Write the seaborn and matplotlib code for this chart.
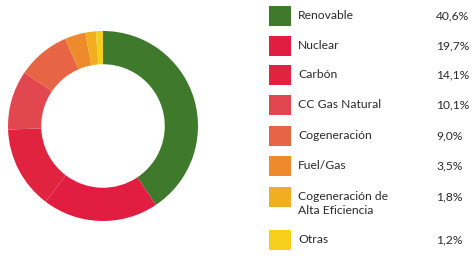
import matplotlib
matplotlib.use("Agg")
import matplotlib.pyplot as plt
from matplotlib.patches import Rectangle
import seaborn as sns

sns.set_theme(style="white")
plt.rcParams['font.family'] = ['Lato', 'DejaVu Sans']

# generation mix
labels = ['Renovable', 'Nuclear', 'Carbón', 'CC Gas Natural', 'Cogeneración',
          'Fuel/Gas', 'Cogeneración de\nAlta Eficiencia', 'Otras']
shares = [40.6, 19.7, 14.1, 10.1, 9.0, 3.5, 1.8, 1.2]
pct_labels = ['40,6%', '19,7%', '14,1%', '10,1%', '9,0%', '3,5%', '1,8%', '1,2%']
colors = ['#3f7a2c', '#e11e42', '#e0233f', '#e2464f', '#e76544',
          '#ee8a2c', '#f2ae22', '#f5cf1c']

W, H = 475, 256
fig = plt.figure(figsize=(W / 100, H / 100), dpi=100)
fig.patch.set_facecolor('white')

# donut
cx, cy, r = 103, 126, 95
ax = fig.add_axes([(cx - r) / W, (H - cy - r) / H, 2 * r / W, 2 * r / H])
ax.pie(shares, colors=colors, startangle=90, counterclock=False, radius=1,
       wedgeprops=dict(width=0.35, linewidth=0))
ax.set_aspect('equal')
ax.set_xlim(-1, 1)
ax.set_ylim(-1, 1)

# legend
lax = fig.add_axes([0, 0, 1, 1])
lax.set_xlim(0, W)
lax.set_ylim(H, 0)
lax.axis('off')
row_y = [16, 46, 75, 105, 136, 166, 197, 240]
for lab, pct, c, y in zip(labels, pct_labels, colors, row_y):
    lax.add_patch(Rectangle((269, y - 10), 22, 20, facecolor=c, edgecolor='none'))
    lax.text(298, y - 6, lab, fontsize=8.7, color='#2a2a2a', va='top', ha='left',
             linespacing=1.35)
    lax.text(436, y - 6, pct, fontsize=8.7, color='#2a2a2a', va='top', ha='left')

fig.savefig('out.png', dpi=100, facecolor='white')
